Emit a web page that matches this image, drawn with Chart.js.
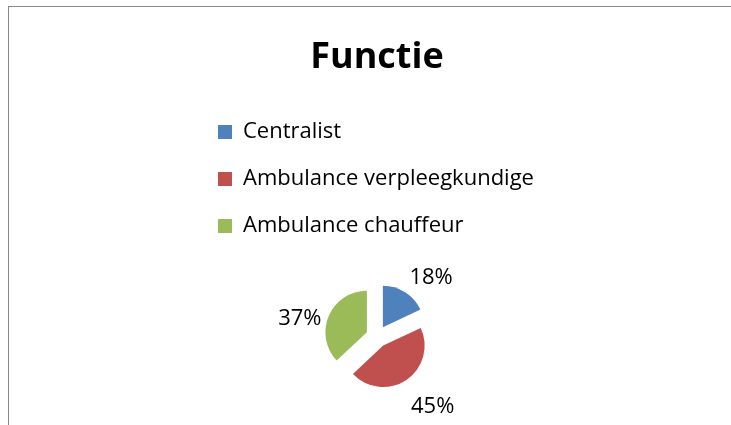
<!DOCTYPE html>
<html>
<head>
<meta charset="utf-8">
<script src="https://cdn.jsdelivr.net/npm/chart.js"></script>
<style>
  html, body { margin: 0; padding: 0; background: #fff; overflow: hidden; width: 731px; height: 425px; }
  #frame { position: absolute; left: 8px; top: 6px; width: 740px; height: 440px; border-left: 1px solid #888; border-top: 1px solid #888; }
  canvas { display: block; }
</style>
</head>
<body>
<div id="frame"><canvas id="c" width="740" height="430"></canvas></div>
<script>
const chartTitle = 'Functie';
const categories = ['Centralist', 'Ambulance verpleegkundige', 'Ambulance chauffeur'];
const values = [18, 45, 37];
const colors = ['#4F81BD', '#C0504D', '#9BBB59'];

const EXPLODE = 11;
const FONT = "'Open Sans', sans-serif";

// Explode each slice outward along its mid angle (Excel style)
const ArcEl = Chart.registry.getElement('arc');
const baseDraw = ArcEl.prototype.draw;
ArcEl.prototype.draw = function (ctx) {
  const mid = (this.startAngle + this.endAngle) / 2;
  ctx.save();
  ctx.translate(Math.cos(mid) * EXPLODE, Math.sin(mid) * EXPLODE);
  baseDraw.call(this, ctx);
  ctx.restore();
};

const pctLabels = {
  id: 'pctLabels',
  afterDatasetsDraw(chart) {
    const ctx = chart.ctx;
    const meta = chart.getDatasetMeta(0);
    const data = chart.data.datasets[0].data;
    const total = data.reduce((a, b) => a + b, 0);
    ctx.save();
    ctx.font = "22px " + FONT;
    ctx.fillStyle = '#000';
    ctx.textAlign = 'center';
    ctx.textBaseline = 'middle';
    meta.data.forEach((arc, i) => {
      const mid = (arc.startAngle + arc.endAngle) / 2;
      const dx = Math.cos(mid), dy = Math.sin(mid);
      const sx = arc.x + dx * EXPLODE, sy = arc.y + dy * EXPLODE;
      const txt = Math.round(data[i] / total * 100) + '%';
      const w = ctx.measureText(txt).width, h = 20;
      const ax = sx + dx * (arc.outerRadius + 8);
      const ay = sy + dy * (arc.outerRadius + 8);
      // outside-end placement: box pushed away from the slice
      const ty = ay + dy * h / 2 + 2 + (-4.8 + 6 * dy + 16.6 * Math.abs(dx));
      ctx.fillText(txt, ax + Math.sign(dx) * w / 2, ty);
    });
    ctx.restore();
  }
};

new Chart(document.getElementById('c'), {
  type: 'pie',
  data: {
    labels: categories,
    datasets: [{
      data: values,
      backgroundColor: colors,
      borderWidth: 0,
      radius: 41.5
    }]
  },
  options: {
    responsive: false,
    devicePixelRatio: 1,
    animation: false,
    layout: { padding: { left: 184, right: 188, top: 0, bottom: 11 } },
    plugins: {
      tooltip: { enabled: false },
      title: {
        display: true,
        text: chartTitle,
        color: '#000',
        font: { family: FONT, size: 36, weight: 'bold', lineHeight: 1.2 },
        padding: { top: 29.4, bottom: 16.4 }
      },
      legend: {
        display: true,
        position: 'top',
        align: 'start',
        labels: {
          color: '#000',
          font: { family: FONT, size: 22 },
          boxWidth: 14,
          boxHeight: 14,
          padding: 25
        }
      }
    }
  },
  plugins: [pctLabels]
});
</script>
</body>
</html>
